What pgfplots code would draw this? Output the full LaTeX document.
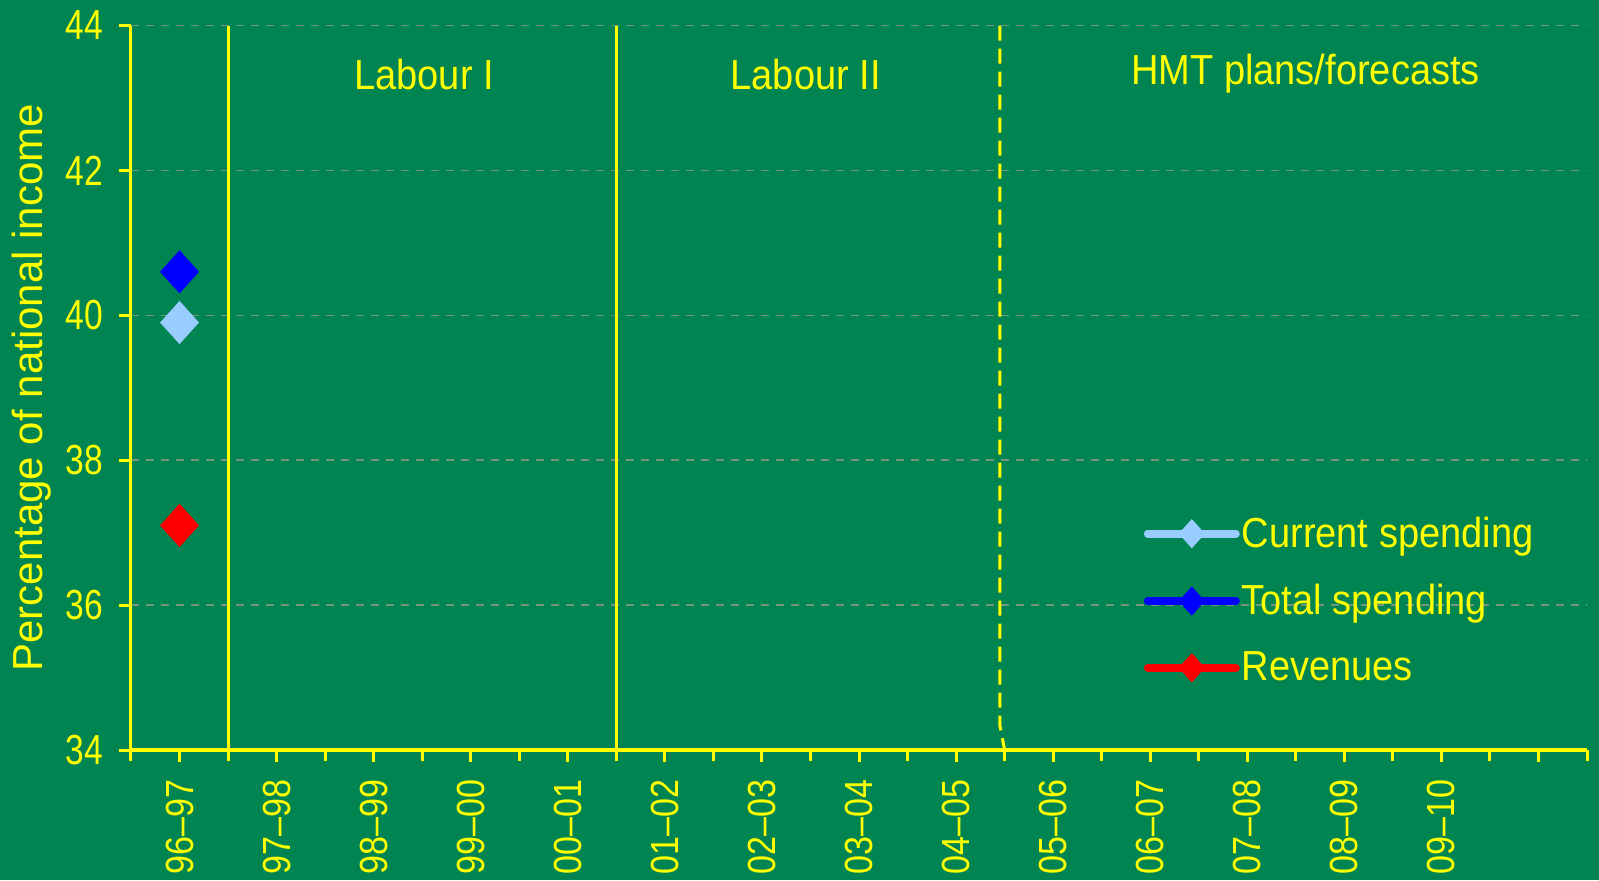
\documentclass[border=0pt]{standalone}
\usepackage{pgfplots}
\pgfplotsset{compat=1.18}
\usepackage{fontspec}
\setmainfont{Liberation Sans}[FakeStretch=0.905]
\newfontfamily\ylabfont{Liberation Sans}[Ligatures=TeX]
\newfontfamily\ytickfont{Liberation Sans}[FakeStretch=0.8, Ligatures=TeX]
\newfontfamily\xtickfont{Liberation Sans}[FakeStretch=0.87, Ligatures=TeX]
\definecolor{bg}{RGB}{0,132,82}
\definecolor{yel}{RGB}{255,255,0}
\definecolor{gridc}{RGB}{115,150,125}
\definecolor{curr}{RGB}{153,204,255}
\definecolor{tot}{RGB}{0,0,255}
\definecolor{rev}{RGB}{255,0,0}
\begin{document}
\begin{tikzpicture}
\fill[bg] (-65.5pt,-65pt) rectangle (734pt,375pt);
\begin{axis}[
  scale only axis, width=728pt, height=362.25pt,
  xmin=-0.5, xmax=14.5, ymin=34, ymax=44,
  axis x line*=bottom, axis y line*=left,
  x axis line style={-, yel, line width=1.7pt},
  y axis line style={-, yel, line width=1.5pt},
  xtick={0,...,14},
  xticklabels={96–97,97–98,98–99,99–00,00–01,01–02,02–03,03–04,04–05,05–06,06–07,07–08,08–09,09–10,{}},
  minor xtick={-0.5,0.5,...,14.5},
  ytick={34,36,...,44},
  tick align=outside,
  major tick length=6pt, minor tick length=5.5pt,
  tick style={yel, line width=1.5pt},
  minor tick style={yel, line width=1.5pt},
  ymajorgrids,
  major grid style={gridc, dash pattern=on 4pt off 3.5pt, line width=0.75pt},
  x tick label style={rotate=90, anchor=east, inner xsep=8.5pt, font=\xtickfont\fontsize{19.6}{20}\selectfont, text=yel},
  y tick label style={font=\ytickfont\fontsize{21}{21}\selectfont, text=yel, xshift=-4.5pt},
  /pgf/number format/assume math mode=true,
  ylabel={\ylabfont Percentage of national income},
  ylabel style={text=yel, font=\fontsize{21}{21}\selectfont, at={(axis description cs:-0.068,0.5)}, anchor=center, rotate=0},
  legend style={at={(axis cs:9.93,37.25)}, anchor=north west, draw=none, fill=none,
    font=\fontsize{21}{21}\selectfont, text=yel, row sep=15pt, inner sep=0pt, nodes={inner sep=1pt}},
  legend cell align=left,
  legend image code/.code={\draw[#1, mark repeat=2, mark phase=2, mark size=7pt] plot coordinates {(0pt,0pt) (22pt,0pt) (44pt,0pt)};},
  clip=false,
]
\addplot[color=curr, line width=4pt, line cap=round, mark=diamond*, mark size=10.5pt, mark options={xscale=1.2, line width=0.4pt, solid}] coordinates {(0,39.9)};
\addlegendentry{Current spending}
\addplot[color=tot, line width=4pt, line cap=round, mark=diamond*, mark size=10.5pt, mark options={xscale=1.2, line width=0.4pt, solid}] coordinates {(0,40.6)};
\addlegendentry{Total spending}
\addplot[color=rev, line width=4pt, line cap=round, mark=diamond*, mark size=10.5pt, mark options={xscale=1.2, line width=0.4pt, solid}] coordinates {(0,37.1)};
\addlegendentry{Revenues}
\draw[yel, line width=1.5pt] (axis cs:0.5,34) -- (axis cs:0.5,44);
\draw[yel, line width=1.5pt] (axis cs:4.5,34) -- (axis cs:4.5,44);
\draw[yel, line width=1.5pt, dash pattern=on 7.5pt off 4pt] (axis cs:8.45,44) -- (axis cs:8.45,34.35) -- (axis cs:8.5,34);
\node[text=yel, font=\fontsize{21}{21}\selectfont] at (axis cs:2.52,43.33) {Labour I};
\node[text=yel, font=\fontsize{21}{21}\selectfont] at (axis cs:6.45,43.33) {Labour II};
\node[text=yel, font=\fontsize{21}{21}\selectfont] at (axis cs:11.6,43.33) {HMT plans/forecasts};
\end{axis}
\pgfresetboundingbox
\useasboundingbox (-65.5pt,-65pt) rectangle (734pt,375pt);
\end{tikzpicture}
\end{document}
